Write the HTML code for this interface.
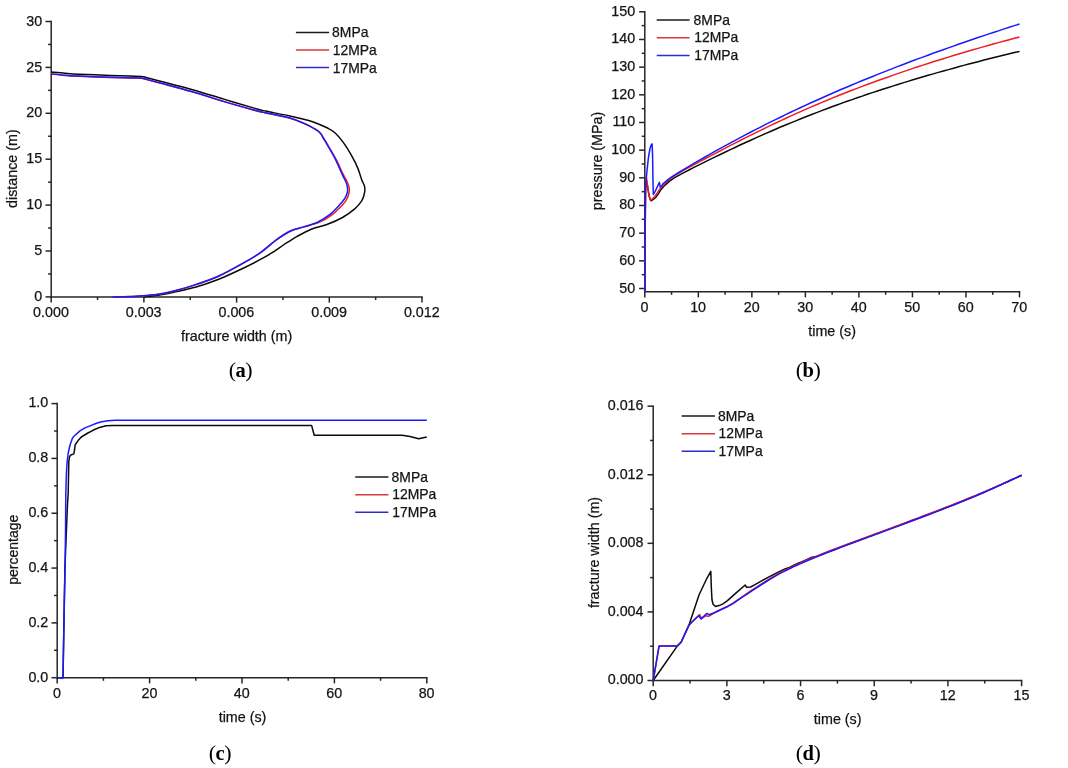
<!DOCTYPE html>
<html><head><meta charset="utf-8"><title>Figure</title>
<style>
html,body{margin:0;padding:0;background:#fff;}
body{width:1068px;height:768px;overflow:hidden;}
svg{display:block;will-change:transform;font-family:"Liberation Sans",sans-serif;fill:#141414;}
text{stroke:#141414;stroke-width:0.25px;}
</style></head><body>
<svg width="1068" height="768" viewBox="0 0 1068 768">
<rect width="1068" height="768" fill="#ffffff"/>
<line x1="50.45" y1="296.90" x2="422.75" y2="296.90" stroke="#262626" stroke-width="1.5"/>
<line x1="51.20" y1="20.75" x2="51.20" y2="297.65" stroke="#262626" stroke-width="1.5"/>
<line x1="51.20" y1="296.90" x2="51.20" y2="302.60" stroke="#262626" stroke-width="1.5"/>
<text x="51.00" y="316.50" text-anchor="middle" font-size="14.3" >0.000</text>
<line x1="143.90" y1="296.90" x2="143.90" y2="302.60" stroke="#262626" stroke-width="1.5"/>
<text x="143.70" y="316.50" text-anchor="middle" font-size="14.3" >0.003</text>
<line x1="236.60" y1="296.90" x2="236.60" y2="302.60" stroke="#262626" stroke-width="1.5"/>
<text x="236.40" y="316.50" text-anchor="middle" font-size="14.3" >0.006</text>
<line x1="329.30" y1="296.90" x2="329.30" y2="302.60" stroke="#262626" stroke-width="1.5"/>
<text x="329.10" y="316.50" text-anchor="middle" font-size="14.3" >0.009</text>
<line x1="422.00" y1="296.90" x2="422.00" y2="302.60" stroke="#262626" stroke-width="1.5"/>
<text x="421.80" y="316.50" text-anchor="middle" font-size="14.3" >0.012</text>
<line x1="97.55" y1="296.90" x2="97.55" y2="300.00" stroke="#262626" stroke-width="1.5"/>
<line x1="190.25" y1="296.90" x2="190.25" y2="300.00" stroke="#262626" stroke-width="1.5"/>
<line x1="282.95" y1="296.90" x2="282.95" y2="300.00" stroke="#262626" stroke-width="1.5"/>
<line x1="375.65" y1="296.90" x2="375.65" y2="300.00" stroke="#262626" stroke-width="1.5"/>
<line x1="45.50" y1="296.90" x2="51.20" y2="296.90" stroke="#262626" stroke-width="1.5"/>
<text x="42.20" y="301.00" text-anchor="end" font-size="14.3" >0</text>
<line x1="45.50" y1="251.00" x2="51.20" y2="251.00" stroke="#262626" stroke-width="1.5"/>
<text x="42.20" y="255.10" text-anchor="end" font-size="14.3" >5</text>
<line x1="45.50" y1="205.10" x2="51.20" y2="205.10" stroke="#262626" stroke-width="1.5"/>
<text x="42.20" y="209.20" text-anchor="end" font-size="14.3" >10</text>
<line x1="45.50" y1="159.20" x2="51.20" y2="159.20" stroke="#262626" stroke-width="1.5"/>
<text x="42.20" y="163.30" text-anchor="end" font-size="14.3" >15</text>
<line x1="45.50" y1="113.30" x2="51.20" y2="113.30" stroke="#262626" stroke-width="1.5"/>
<text x="42.20" y="117.40" text-anchor="end" font-size="14.3" >20</text>
<line x1="45.50" y1="67.40" x2="51.20" y2="67.40" stroke="#262626" stroke-width="1.5"/>
<text x="42.20" y="71.50" text-anchor="end" font-size="14.3" >25</text>
<line x1="45.50" y1="21.50" x2="51.20" y2="21.50" stroke="#262626" stroke-width="1.5"/>
<text x="42.20" y="25.60" text-anchor="end" font-size="14.3" >30</text>
<line x1="48.10" y1="273.95" x2="51.20" y2="273.95" stroke="#262626" stroke-width="1.5"/>
<line x1="48.10" y1="228.05" x2="51.20" y2="228.05" stroke="#262626" stroke-width="1.5"/>
<line x1="48.10" y1="182.15" x2="51.20" y2="182.15" stroke="#262626" stroke-width="1.5"/>
<line x1="48.10" y1="136.25" x2="51.20" y2="136.25" stroke="#262626" stroke-width="1.5"/>
<line x1="48.10" y1="90.35" x2="51.20" y2="90.35" stroke="#262626" stroke-width="1.5"/>
<line x1="48.10" y1="44.45" x2="51.20" y2="44.45" stroke="#262626" stroke-width="1.5"/>
<text x="236.60" y="341.20" text-anchor="middle" font-size="14.3" >fracture width (m)</text>
<text transform="translate(16.80,168.60) rotate(-90)" text-anchor="middle" font-size="14.3">distance (m)</text>
<path d="M51.20,72.10 C53.50,72.30 60.42,72.95 65.00,73.30 C69.58,73.65 71.20,73.85 78.70,74.20 C86.20,74.55 101.45,75.10 110.00,75.40 C118.55,75.70 124.78,75.83 130.00,76.00 C135.22,76.17 138.63,76.15 141.30,76.40 C143.97,76.65 142.67,76.65 146.00,77.50 C149.33,78.35 153.55,79.47 161.30,81.50 C169.05,83.53 182.08,86.77 192.50,89.70 C202.92,92.63 213.38,95.98 223.80,99.10 C234.22,102.22 248.03,106.40 255.00,108.40 C261.97,110.40 259.93,109.87 265.60,111.10 C271.27,112.33 281.18,114.03 289.00,115.80 C296.82,117.57 305.98,119.62 312.50,121.70 C319.02,123.78 324.32,126.42 328.10,128.30 C331.88,130.18 332.58,130.53 335.20,133.00 C337.82,135.47 341.07,139.33 343.80,143.10 C346.53,146.87 349.27,151.43 351.60,155.60 C353.93,159.77 356.12,164.07 357.80,168.10 C359.48,172.13 360.62,176.90 361.70,179.80 C362.78,182.70 363.77,183.80 364.30,185.50 C364.83,187.20 364.95,188.42 364.90,190.00 C364.85,191.58 364.53,193.18 364.00,195.00 C363.47,196.82 363.20,198.63 361.70,200.90 C360.20,203.17 358.20,205.83 355.00,208.60 C351.80,211.37 347.18,214.85 342.50,217.50 C337.82,220.15 332.10,222.55 326.90,224.50 C321.70,226.45 316.25,227.23 311.30,229.20 C306.35,231.17 301.63,233.82 297.20,236.30 C292.77,238.78 288.87,241.37 284.70,244.10 C280.53,246.83 276.32,250.10 272.20,252.70 C268.08,255.30 265.18,256.95 260.00,259.70 C254.82,262.45 247.98,265.93 241.10,269.20 C234.22,272.47 226.18,276.33 218.70,279.30 C211.22,282.27 203.70,284.85 196.20,287.00 C188.70,289.15 179.32,290.95 173.70,292.20 C168.08,293.45 166.45,293.83 162.50,294.50 C158.55,295.17 153.12,295.80 150.00,296.20 C146.88,296.60 144.83,296.78 143.80,296.90" fill="none" stroke="#0a0a0a" stroke-width="1.5" stroke-linejoin="round"/>
<path d="M51.20,74.10 C53.50,74.32 60.42,75.03 65.00,75.40 C69.58,75.77 71.20,75.97 78.70,76.30 C86.20,76.63 101.45,77.12 110.00,77.40 C118.55,77.68 124.78,77.85 130.00,78.00 C135.22,78.15 138.63,78.07 141.30,78.30 C143.97,78.53 142.67,78.55 146.00,79.40 C149.33,80.25 153.55,81.32 161.30,83.40 C169.05,85.48 182.08,88.87 192.50,91.90 C202.92,94.93 213.38,98.50 223.80,101.60 C234.22,104.70 248.03,108.62 255.00,110.50 C261.97,112.38 259.93,111.65 265.60,112.90 C271.27,114.15 282.48,116.18 289.00,118.00 C295.52,119.82 300.27,121.88 304.70,123.80 C309.13,125.72 313.17,128.12 315.60,129.50 C318.03,130.88 318.33,131.27 319.30,132.10 C320.27,132.93 320.70,133.52 321.40,134.50 C322.10,135.48 322.30,136.03 323.50,138.00 C324.70,139.97 326.42,142.58 328.60,146.30 C330.78,150.02 334.17,155.62 336.60,160.30 C339.03,164.98 341.37,170.65 343.20,174.40 C345.03,178.15 346.60,180.57 347.60,182.80 C348.60,185.03 348.95,186.18 349.20,187.80 C349.45,189.42 349.53,190.55 349.10,192.50 C348.67,194.45 347.83,197.28 346.60,199.50 C345.37,201.72 344.20,203.18 341.70,205.80 C339.20,208.42 335.38,212.43 331.60,215.20 C327.82,217.97 323.70,220.42 319.00,222.40 C314.30,224.38 308.08,225.67 303.40,227.10 C298.72,228.53 295.32,228.92 290.90,231.00 C286.48,233.08 282.05,235.92 276.90,239.60 C271.75,243.28 265.97,248.97 260.00,253.10 C254.03,257.23 247.98,260.55 241.10,264.40 C234.22,268.25 226.18,272.83 218.70,276.20 C211.22,279.57 203.70,282.08 196.20,284.60 C188.70,287.12 180.25,289.63 173.70,291.30 C167.15,292.97 162.52,293.82 156.90,294.60 C151.28,295.38 145.58,295.63 140.00,296.00 C134.42,296.37 127.98,296.65 123.40,296.80 C118.82,296.95 114.32,296.88 112.50,296.90" fill="none" stroke="#ee1c24" stroke-width="1.5" stroke-linejoin="round"/>
<path d="M51.20,73.90 C53.50,74.12 60.42,74.83 65.00,75.20 C69.58,75.57 71.20,75.77 78.70,76.10 C86.20,76.43 101.45,76.92 110.00,77.20 C118.55,77.48 124.78,77.65 130.00,77.80 C135.22,77.95 138.63,77.87 141.30,78.10 C143.97,78.33 142.67,78.35 146.00,79.20 C149.33,80.05 153.55,81.12 161.30,83.20 C169.05,85.28 182.08,88.67 192.50,91.70 C202.92,94.73 213.38,98.30 223.80,101.40 C234.22,104.50 248.03,108.42 255.00,110.30 C261.97,112.18 259.93,111.45 265.60,112.70 C271.27,113.95 282.48,115.98 289.00,117.80 C295.52,119.62 300.27,121.68 304.70,123.60 C309.13,125.52 313.18,127.90 315.60,129.30 C318.02,130.70 318.27,131.15 319.20,132.00 C320.13,132.85 320.53,133.40 321.20,134.40 C321.87,135.40 322.05,136.02 323.20,138.00 C324.35,139.98 325.98,142.58 328.10,146.30 C330.22,150.02 333.55,155.62 335.90,160.30 C338.25,164.98 340.48,170.65 342.20,174.40 C343.92,178.15 345.32,180.57 346.20,182.80 C347.08,185.03 347.32,186.18 347.50,187.80 C347.68,189.42 347.75,190.72 347.30,192.50 C346.85,194.28 346.12,196.42 344.80,198.50 C343.48,200.58 341.87,202.35 339.40,205.00 C336.93,207.65 333.65,211.53 330.00,214.40 C326.35,217.27 321.93,220.12 317.50,222.20 C313.07,224.28 307.83,225.47 303.40,226.90 C298.97,228.33 295.32,228.72 290.90,230.80 C286.48,232.88 282.05,235.72 276.90,239.40 C271.75,243.08 265.97,248.77 260.00,252.90 C254.03,257.03 247.98,260.35 241.10,264.20 C234.22,268.05 226.18,272.63 218.70,276.00 C211.22,279.37 203.70,281.88 196.20,284.40 C188.70,286.92 180.25,289.42 173.70,291.10 C167.15,292.78 162.52,293.70 156.90,294.50 C151.28,295.30 145.58,295.53 140.00,295.90 C134.42,296.27 127.98,296.53 123.40,296.70 C118.82,296.87 114.32,296.87 112.50,296.90" fill="none" stroke="#1a1aff" stroke-width="1.5" stroke-linejoin="round"/>
<line x1="295.90" y1="32.40" x2="329.10" y2="32.40" stroke="#1a1a1a" stroke-width="1.5"/>
<line x1="295.90" y1="50.00" x2="329.10" y2="50.00" stroke="#d8383e" stroke-width="1.5"/>
<line x1="295.90" y1="67.60" x2="329.10" y2="67.60" stroke="#2c2cd2" stroke-width="1.5"/>
<text x="332.10" y="37.30" text-anchor="start" font-size="13.9" >8MPa</text>
<text x="332.70" y="54.90" text-anchor="start" font-size="13.9" >12MPa</text>
<text x="332.70" y="72.50" text-anchor="start" font-size="13.9" >17MPa</text>
<text x="240.70" y="376.60" text-anchor="middle" font-family="Liberation Serif, serif" fill="#000" style="stroke:none"><tspan font-size="22" dy="0.6">(</tspan><tspan font-weight="bold" font-size="20.5" dy="-0.6" dx="-0.5">a</tspan><tspan font-size="22" dy="0.6" dx="-0.5">)</tspan></text>
<line x1="644.05" y1="291.70" x2="1020.26" y2="291.70" stroke="#262626" stroke-width="1.5"/>
<line x1="644.80" y1="11.05" x2="644.80" y2="292.45" stroke="#262626" stroke-width="1.5"/>
<line x1="644.80" y1="291.70" x2="644.80" y2="297.40" stroke="#262626" stroke-width="1.5"/>
<text x="644.60" y="311.80" text-anchor="middle" font-size="14.3" >0</text>
<line x1="698.33" y1="291.70" x2="698.33" y2="297.40" stroke="#262626" stroke-width="1.5"/>
<text x="698.13" y="311.80" text-anchor="middle" font-size="14.3" >10</text>
<line x1="751.86" y1="291.70" x2="751.86" y2="297.40" stroke="#262626" stroke-width="1.5"/>
<text x="751.66" y="311.80" text-anchor="middle" font-size="14.3" >20</text>
<line x1="805.39" y1="291.70" x2="805.39" y2="297.40" stroke="#262626" stroke-width="1.5"/>
<text x="805.19" y="311.80" text-anchor="middle" font-size="14.3" >30</text>
<line x1="858.92" y1="291.70" x2="858.92" y2="297.40" stroke="#262626" stroke-width="1.5"/>
<text x="858.72" y="311.80" text-anchor="middle" font-size="14.3" >40</text>
<line x1="912.45" y1="291.70" x2="912.45" y2="297.40" stroke="#262626" stroke-width="1.5"/>
<text x="912.25" y="311.80" text-anchor="middle" font-size="14.3" >50</text>
<line x1="965.98" y1="291.70" x2="965.98" y2="297.40" stroke="#262626" stroke-width="1.5"/>
<text x="965.78" y="311.80" text-anchor="middle" font-size="14.3" >60</text>
<line x1="1019.51" y1="291.70" x2="1019.51" y2="297.40" stroke="#262626" stroke-width="1.5"/>
<text x="1019.31" y="311.80" text-anchor="middle" font-size="14.3" >70</text>
<line x1="671.56" y1="291.70" x2="671.56" y2="294.80" stroke="#262626" stroke-width="1.5"/>
<line x1="725.09" y1="291.70" x2="725.09" y2="294.80" stroke="#262626" stroke-width="1.5"/>
<line x1="778.62" y1="291.70" x2="778.62" y2="294.80" stroke="#262626" stroke-width="1.5"/>
<line x1="832.15" y1="291.70" x2="832.15" y2="294.80" stroke="#262626" stroke-width="1.5"/>
<line x1="885.68" y1="291.70" x2="885.68" y2="294.80" stroke="#262626" stroke-width="1.5"/>
<line x1="939.21" y1="291.70" x2="939.21" y2="294.80" stroke="#262626" stroke-width="1.5"/>
<line x1="992.74" y1="291.70" x2="992.74" y2="294.80" stroke="#262626" stroke-width="1.5"/>
<line x1="639.10" y1="288.50" x2="644.80" y2="288.50" stroke="#262626" stroke-width="1.5"/>
<text x="635.20" y="292.50" text-anchor="end" font-size="14.3" >50</text>
<line x1="639.10" y1="260.83" x2="644.80" y2="260.83" stroke="#262626" stroke-width="1.5"/>
<text x="635.20" y="264.83" text-anchor="end" font-size="14.3" >60</text>
<line x1="639.10" y1="233.16" x2="644.80" y2="233.16" stroke="#262626" stroke-width="1.5"/>
<text x="635.20" y="237.16" text-anchor="end" font-size="14.3" >70</text>
<line x1="639.10" y1="205.49" x2="644.80" y2="205.49" stroke="#262626" stroke-width="1.5"/>
<text x="635.20" y="209.49" text-anchor="end" font-size="14.3" >80</text>
<line x1="639.10" y1="177.82" x2="644.80" y2="177.82" stroke="#262626" stroke-width="1.5"/>
<text x="635.20" y="181.82" text-anchor="end" font-size="14.3" >90</text>
<line x1="639.10" y1="150.15" x2="644.80" y2="150.15" stroke="#262626" stroke-width="1.5"/>
<text x="635.20" y="154.15" text-anchor="end" font-size="14.3" >100</text>
<line x1="639.10" y1="122.48" x2="644.80" y2="122.48" stroke="#262626" stroke-width="1.5"/>
<text x="635.20" y="126.48" text-anchor="end" font-size="14.3" >110</text>
<line x1="639.10" y1="94.81" x2="644.80" y2="94.81" stroke="#262626" stroke-width="1.5"/>
<text x="635.20" y="98.81" text-anchor="end" font-size="14.3" >120</text>
<line x1="639.10" y1="67.14" x2="644.80" y2="67.14" stroke="#262626" stroke-width="1.5"/>
<text x="635.20" y="71.14" text-anchor="end" font-size="14.3" >130</text>
<line x1="639.10" y1="39.47" x2="644.80" y2="39.47" stroke="#262626" stroke-width="1.5"/>
<text x="635.20" y="43.47" text-anchor="end" font-size="14.3" >140</text>
<line x1="639.10" y1="11.80" x2="644.80" y2="11.80" stroke="#262626" stroke-width="1.5"/>
<text x="635.20" y="15.80" text-anchor="end" font-size="14.3" >150</text>
<line x1="641.70" y1="274.67" x2="644.80" y2="274.67" stroke="#262626" stroke-width="1.5"/>
<line x1="641.70" y1="247.00" x2="644.80" y2="247.00" stroke="#262626" stroke-width="1.5"/>
<line x1="641.70" y1="219.32" x2="644.80" y2="219.32" stroke="#262626" stroke-width="1.5"/>
<line x1="641.70" y1="191.66" x2="644.80" y2="191.66" stroke="#262626" stroke-width="1.5"/>
<line x1="641.70" y1="163.99" x2="644.80" y2="163.99" stroke="#262626" stroke-width="1.5"/>
<line x1="641.70" y1="136.31" x2="644.80" y2="136.31" stroke="#262626" stroke-width="1.5"/>
<line x1="641.70" y1="108.65" x2="644.80" y2="108.65" stroke="#262626" stroke-width="1.5"/>
<line x1="641.70" y1="80.97" x2="644.80" y2="80.97" stroke="#262626" stroke-width="1.5"/>
<line x1="641.70" y1="53.31" x2="644.80" y2="53.31" stroke="#262626" stroke-width="1.5"/>
<line x1="641.70" y1="25.63" x2="644.80" y2="25.63" stroke="#262626" stroke-width="1.5"/>
<text x="832.10" y="336.30" text-anchor="middle" font-size="14.3" >time (s)</text>
<text transform="translate(602.00,161.00) rotate(-90)" text-anchor="middle" font-size="14.3">pressure (MPa)</text>
<polyline points="644.9,291.7 645.1,240.0 645.5,192.0 646.3,181.0 647.2,184.0 648.6,193.0 649.8,198.6 651.0,200.8 653.0,199.6 655.7,197.5 658.5,193.6 660.9,189.7 664.5,185.6 669.6,181.1 674.6,177.7 679.7,174.8 684.8,172.1 689.9,169.5 694.9,166.9 700.0,164.4 705.1,161.9 710.1,159.4 715.2,156.9 720.3,154.5 725.4,152.0 730.4,149.6 735.5,147.2 740.6,144.8 745.6,142.5 750.7,140.2 755.8,137.9 760.9,135.6 765.9,133.4 771.0,131.2 776.1,129.0 781.1,126.8 786.2,124.7 791.3,122.6 796.4,120.6 801.4,118.5 806.5,116.5 811.6,114.5 816.6,112.6 821.7,110.6 826.8,108.7 831.9,106.8 836.9,105.0 842.0,103.1 847.1,101.3 852.1,99.6 857.2,97.8 862.3,96.1 867.4,94.3 872.4,92.6 877.5,91.0 882.6,89.3 887.6,87.7 892.7,86.1 897.8,84.5 902.9,82.9 907.9,81.4 913.0,79.8 918.1,78.3 923.1,76.8 928.2,75.3 933.3,73.9 938.4,72.4 943.4,71.0 948.5,69.6 953.6,68.2 958.6,66.8 963.7,65.4 968.8,64.1 973.9,62.7 978.9,61.4 984.0,60.1 989.1,58.8 994.1,57.5 999.2,56.3 1004.3,55.0 1009.4,53.8 1014.4,52.6 1019.5,51.4" fill="none" stroke="#0a0a0a" stroke-width="1.5" stroke-linejoin="round" stroke-linecap="butt"/>
<polyline points="644.9,291.7 645.1,240.0 645.5,188.0 646.3,177.0 647.0,181.0 648.2,190.0 649.4,196.6 650.5,200.1 652.5,198.8 654.7,196.5 657.5,192.6 660.4,188.1 664.0,184.7 669.1,179.6 674.2,175.9 679.2,172.8 684.3,169.9 689.4,167.2 694.5,164.4 699.5,161.7 704.6,159.0 709.7,156.4 714.8,153.7 719.9,151.0 724.9,148.3 730.0,145.7 735.1,143.1 740.2,140.5 745.3,137.9 750.3,135.3 755.4,132.8 760.5,130.3 765.6,127.8 770.6,125.4 775.7,123.0 780.8,120.6 785.9,118.2 791.0,115.9 796.0,113.6 801.1,111.4 806.2,109.1 811.3,106.9 816.4,104.8 821.4,102.6 826.5,100.5 831.6,98.4 836.7,96.3 841.8,94.3 846.8,92.3 851.9,90.3 857.0,88.4 862.1,86.4 867.1,84.5 872.2,82.7 877.3,80.8 882.4,79.0 887.5,77.2 892.5,75.4 897.6,73.6 902.7,71.9 907.8,70.1 912.9,68.4 917.9,66.8 923.0,65.1 928.1,63.5 933.2,61.8 938.2,60.2 943.3,58.7 948.4,57.1 953.5,55.5 958.6,54.0 963.6,52.5 968.7,51.0 973.8,49.5 978.9,48.1 984.0,46.6 989.0,45.2 994.1,43.8 999.2,42.4 1004.3,41.0 1009.3,39.7 1014.4,38.3 1019.5,37.0" fill="none" stroke="#ee1c24" stroke-width="1.5" stroke-linejoin="round" stroke-linecap="butt"/>
<polyline points="644.9,291.7 645.1,240.0 645.5,187.1 646.9,171.5 648.4,157.9 650.0,148.5 651.3,144.8 652.1,143.9 652.6,155.8 652.9,176.7 653.3,194.4 655.2,191.3 659.4,182.4 660.2,187.1 661.5,186.0 663.5,183.3 668.6,179.2 673.7,175.7 678.8,172.5 683.8,169.4 688.9,166.4 694.0,163.4 699.1,160.4 704.2,157.5 709.3,154.6 714.4,151.7 719.4,148.9 724.5,146.1 729.6,143.3 734.7,140.6 739.8,137.9 744.9,135.2 750.0,132.5 755.0,129.9 760.1,127.3 765.2,124.7 770.3,122.2 775.4,119.6 780.5,117.2 785.6,114.7 790.6,112.3 795.7,109.9 800.8,107.5 805.9,105.1 811.0,102.8 816.1,100.5 821.2,98.2 826.2,96.0 831.3,93.7 836.4,91.5 841.5,89.3 846.6,87.2 851.7,85.0 856.8,82.9 861.8,80.8 866.9,78.7 872.0,76.7 877.1,74.6 882.2,72.6 887.3,70.6 892.4,68.6 897.4,66.6 902.5,64.7 907.6,62.8 912.7,60.8 917.8,58.9 922.9,57.1 928.0,55.2 933.0,53.3 938.1,51.5 943.2,49.7 948.3,47.9 953.4,46.1 958.5,44.3 963.6,42.5 968.6,40.8 973.7,39.0 978.8,37.3 983.9,35.6 989.0,33.9 994.1,32.2 999.2,30.6 1004.2,28.9 1009.3,27.2 1014.4,25.6 1019.5,24.0" fill="none" stroke="#1a1aff" stroke-width="1.5" stroke-linejoin="round" stroke-linecap="butt"/>
<line x1="656.70" y1="20.10" x2="689.60" y2="20.10" stroke="#1a1a1a" stroke-width="1.5"/>
<line x1="656.70" y1="37.80" x2="689.60" y2="37.80" stroke="#d8383e" stroke-width="1.5"/>
<line x1="656.70" y1="55.60" x2="689.60" y2="55.60" stroke="#2c2cd2" stroke-width="1.5"/>
<text x="693.60" y="24.70" text-anchor="start" font-size="13.9" >8MPa</text>
<text x="694.20" y="42.40" text-anchor="start" font-size="13.9" >12MPa</text>
<text x="694.20" y="60.20" text-anchor="start" font-size="13.9" >17MPa</text>
<text x="808.20" y="376.60" text-anchor="middle" font-family="Liberation Serif, serif" fill="#000" style="stroke:none"><tspan font-size="22" dy="0.6">(</tspan><tspan font-weight="bold" font-size="20.5" dy="-0.6" dx="-0.5">b</tspan><tspan font-size="22" dy="0.6" dx="-0.5">)</tspan></text>
<line x1="56.45" y1="677.70" x2="427.55" y2="677.70" stroke="#262626" stroke-width="1.5"/>
<line x1="57.20" y1="402.85" x2="57.20" y2="678.45" stroke="#262626" stroke-width="1.5"/>
<line x1="57.20" y1="677.70" x2="57.20" y2="683.40" stroke="#262626" stroke-width="1.5"/>
<text x="57.00" y="697.70" text-anchor="middle" font-size="14.3" >0</text>
<line x1="149.60" y1="677.70" x2="149.60" y2="683.40" stroke="#262626" stroke-width="1.5"/>
<text x="149.40" y="697.70" text-anchor="middle" font-size="14.3" >20</text>
<line x1="242.00" y1="677.70" x2="242.00" y2="683.40" stroke="#262626" stroke-width="1.5"/>
<text x="241.80" y="697.70" text-anchor="middle" font-size="14.3" >40</text>
<line x1="334.40" y1="677.70" x2="334.40" y2="683.40" stroke="#262626" stroke-width="1.5"/>
<text x="334.20" y="697.70" text-anchor="middle" font-size="14.3" >60</text>
<line x1="426.80" y1="677.70" x2="426.80" y2="683.40" stroke="#262626" stroke-width="1.5"/>
<text x="426.60" y="697.70" text-anchor="middle" font-size="14.3" >80</text>
<line x1="103.40" y1="677.70" x2="103.40" y2="680.80" stroke="#262626" stroke-width="1.5"/>
<line x1="195.80" y1="677.70" x2="195.80" y2="680.80" stroke="#262626" stroke-width="1.5"/>
<line x1="288.20" y1="677.70" x2="288.20" y2="680.80" stroke="#262626" stroke-width="1.5"/>
<line x1="380.60" y1="677.70" x2="380.60" y2="680.80" stroke="#262626" stroke-width="1.5"/>
<line x1="51.50" y1="677.70" x2="57.20" y2="677.70" stroke="#262626" stroke-width="1.5"/>
<text x="48.30" y="681.50" text-anchor="end" font-size="14.3" >0.0</text>
<line x1="51.50" y1="622.88" x2="57.20" y2="622.88" stroke="#262626" stroke-width="1.5"/>
<text x="48.30" y="626.68" text-anchor="end" font-size="14.3" >0.2</text>
<line x1="51.50" y1="568.06" x2="57.20" y2="568.06" stroke="#262626" stroke-width="1.5"/>
<text x="48.30" y="571.86" text-anchor="end" font-size="14.3" >0.4</text>
<line x1="51.50" y1="513.24" x2="57.20" y2="513.24" stroke="#262626" stroke-width="1.5"/>
<text x="48.30" y="517.04" text-anchor="end" font-size="14.3" >0.6</text>
<line x1="51.50" y1="458.42" x2="57.20" y2="458.42" stroke="#262626" stroke-width="1.5"/>
<text x="48.30" y="462.22" text-anchor="end" font-size="14.3" >0.8</text>
<line x1="51.50" y1="403.60" x2="57.20" y2="403.60" stroke="#262626" stroke-width="1.5"/>
<text x="48.30" y="407.40" text-anchor="end" font-size="14.3" >1.0</text>
<line x1="54.10" y1="650.29" x2="57.20" y2="650.29" stroke="#262626" stroke-width="1.5"/>
<line x1="54.10" y1="595.47" x2="57.20" y2="595.47" stroke="#262626" stroke-width="1.5"/>
<line x1="54.10" y1="540.65" x2="57.20" y2="540.65" stroke="#262626" stroke-width="1.5"/>
<line x1="54.10" y1="485.83" x2="57.20" y2="485.83" stroke="#262626" stroke-width="1.5"/>
<line x1="54.10" y1="431.01" x2="57.20" y2="431.01" stroke="#262626" stroke-width="1.5"/>
<text x="242.50" y="721.70" text-anchor="middle" font-size="14.3" >time (s)</text>
<text transform="translate(18.30,549.70) rotate(-90)" text-anchor="middle" font-size="14.0">percentage</text>
<polyline points="57.2,677.7 63.0,677.7 64.0,619.0 64.9,570.0 65.6,551.0 67.4,505.7 68.2,493.3 68.8,462.0 69.4,457.2 70.4,455.3 73.8,453.9 74.5,450.0 75.2,444.8 78.1,440.6 81.3,437.0 87.9,433.0 93.0,430.3 99.6,427.4 106.0,425.8 113.3,425.4 311.6,425.4 314.2,435.3 402.1,435.3 410.0,436.6 418.7,438.8 426.8,436.9" fill="none" stroke="#0a0a0a" stroke-width="1.5" stroke-linejoin="round" stroke-linecap="butt"/>
<polyline points="57.2,677.7 63.0,677.7 64.0,619.0 65.0,568.5 65.5,534.0 65.8,493.0 66.4,473.8 67.1,462.0 68.4,452.0 70.2,444.5 72.5,437.9 74.5,435.8 78.0,432.6 80.3,430.7 85.0,427.9 90.0,425.9 96.5,423.2 101.6,421.7 108.0,420.7 115.2,420.3 426.8,420.3" fill="none" stroke="#1a1aff" stroke-width="1.5" stroke-linejoin="round" stroke-linecap="butt"/>
<line x1="355.20" y1="477.10" x2="388.40" y2="477.10" stroke="#1a1a1a" stroke-width="1.5"/>
<line x1="355.20" y1="494.80" x2="388.40" y2="494.80" stroke="#d8383e" stroke-width="1.5"/>
<line x1="355.20" y1="512.20" x2="388.40" y2="512.20" stroke="#2c2cd2" stroke-width="1.5"/>
<text x="391.60" y="481.80" text-anchor="start" font-size="13.9" >8MPa</text>
<text x="392.20" y="499.40" text-anchor="start" font-size="13.9" >12MPa</text>
<text x="392.20" y="517.00" text-anchor="start" font-size="13.9" >17MPa</text>
<text x="220.10" y="759.50" text-anchor="middle" font-family="Liberation Serif, serif" fill="#000" style="stroke:none"><tspan font-size="22" dy="0.6">(</tspan><tspan font-weight="bold" font-size="20.5" dy="-0.6" dx="-0.5">c</tspan><tspan font-size="22" dy="0.6" dx="-0.5">)</tspan></text>
<line x1="652.45" y1="680.50" x2="1022.35" y2="680.50" stroke="#262626" stroke-width="1.5"/>
<line x1="653.20" y1="405.43" x2="653.20" y2="681.25" stroke="#262626" stroke-width="1.5"/>
<line x1="653.20" y1="680.50" x2="653.20" y2="686.20" stroke="#262626" stroke-width="1.5"/>
<text x="653.00" y="700.00" text-anchor="middle" font-size="14.3" >0</text>
<line x1="726.88" y1="680.50" x2="726.88" y2="686.20" stroke="#262626" stroke-width="1.5"/>
<text x="726.68" y="700.00" text-anchor="middle" font-size="14.3" >3</text>
<line x1="800.56" y1="680.50" x2="800.56" y2="686.20" stroke="#262626" stroke-width="1.5"/>
<text x="800.36" y="700.00" text-anchor="middle" font-size="14.3" >6</text>
<line x1="874.24" y1="680.50" x2="874.24" y2="686.20" stroke="#262626" stroke-width="1.5"/>
<text x="874.04" y="700.00" text-anchor="middle" font-size="14.3" >9</text>
<line x1="947.92" y1="680.50" x2="947.92" y2="686.20" stroke="#262626" stroke-width="1.5"/>
<text x="947.72" y="700.00" text-anchor="middle" font-size="14.3" >12</text>
<line x1="1021.60" y1="680.50" x2="1021.60" y2="686.20" stroke="#262626" stroke-width="1.5"/>
<text x="1021.40" y="700.00" text-anchor="middle" font-size="14.3" >15</text>
<line x1="690.04" y1="680.50" x2="690.04" y2="683.60" stroke="#262626" stroke-width="1.5"/>
<line x1="763.72" y1="680.50" x2="763.72" y2="683.60" stroke="#262626" stroke-width="1.5"/>
<line x1="837.40" y1="680.50" x2="837.40" y2="683.60" stroke="#262626" stroke-width="1.5"/>
<line x1="911.08" y1="680.50" x2="911.08" y2="683.60" stroke="#262626" stroke-width="1.5"/>
<line x1="984.76" y1="680.50" x2="984.76" y2="683.60" stroke="#262626" stroke-width="1.5"/>
<line x1="647.50" y1="680.50" x2="653.20" y2="680.50" stroke="#262626" stroke-width="1.5"/>
<text x="643.50" y="684.30" text-anchor="end" font-size="14.3" >0.000</text>
<line x1="647.50" y1="611.92" x2="653.20" y2="611.92" stroke="#262626" stroke-width="1.5"/>
<text x="643.50" y="615.72" text-anchor="end" font-size="14.3" >0.004</text>
<line x1="647.50" y1="543.34" x2="653.20" y2="543.34" stroke="#262626" stroke-width="1.5"/>
<text x="643.50" y="547.14" text-anchor="end" font-size="14.3" >0.008</text>
<line x1="647.50" y1="474.76" x2="653.20" y2="474.76" stroke="#262626" stroke-width="1.5"/>
<text x="643.50" y="478.56" text-anchor="end" font-size="14.3" >0.012</text>
<line x1="647.50" y1="406.18" x2="653.20" y2="406.18" stroke="#262626" stroke-width="1.5"/>
<text x="643.50" y="409.98" text-anchor="end" font-size="14.3" >0.016</text>
<line x1="650.10" y1="646.21" x2="653.20" y2="646.21" stroke="#262626" stroke-width="1.5"/>
<line x1="650.10" y1="577.63" x2="653.20" y2="577.63" stroke="#262626" stroke-width="1.5"/>
<line x1="650.10" y1="509.05" x2="653.20" y2="509.05" stroke="#262626" stroke-width="1.5"/>
<line x1="650.10" y1="440.47" x2="653.20" y2="440.47" stroke="#262626" stroke-width="1.5"/>
<text x="837.70" y="724.40" text-anchor="middle" font-size="14.3" >time (s)</text>
<text transform="translate(598.90,552.50) rotate(-90)" text-anchor="middle" font-size="14.3">fracture width (m)</text>
<polyline points="653.2,680.5 677.4,645.9 681.1,642.3 688.9,625.2 699.1,594.7 706.9,578.3 710.8,571.3 711.3,586.9 712.0,600.0 713.2,604.5 715.5,606.4 719.0,605.6 722.5,604.1 727.2,600.9 735.0,593.9 745.2,585.0 746.6,587.3 750.6,587.0 755.0,584.7 761.6,580.9 769.0,576.9 777.2,572.7 785.0,568.9 790.0,567.1 792.8,565.8 795.5,564.5 798.2,563.3 801.0,562.1 803.8,560.9 806.5,559.7 809.2,558.5 812.0,557.3 817.0,556.4 820.4,555.0 823.8,553.6 827.2,552.3 830.6,551.0 834.1,549.7 837.5,548.4 840.9,547.1 844.3,545.8 847.7,544.5 851.1,543.2 854.5,542.0 857.9,540.7 861.4,539.4 864.8,538.2 868.2,536.9 871.6,535.7 875.0,534.4 878.4,533.2 881.8,531.9 885.2,530.6 888.6,529.4 892.1,528.1 895.5,526.8 898.9,525.6 902.3,524.3 905.7,523.0 909.1,521.7 912.5,520.5 915.9,519.2 919.4,517.9 922.8,516.6 926.2,515.3 929.6,514.0 933.0,512.7 936.4,511.4 939.8,510.1 943.2,508.8 946.6,507.4 950.1,506.1 953.5,504.8 956.9,503.4 960.3,502.1 963.7,500.7 967.1,499.3 970.5,497.9 973.9,496.5 977.3,495.1 980.8,493.6 984.2,492.1 987.6,490.6 991.0,489.1 994.4,487.6 997.8,486.1 1001.2,484.6 1004.6,483.0 1008.1,481.5 1011.5,479.9 1014.9,478.4 1018.3,476.8 1021.7,475.3" fill="none" stroke="#0a0a0a" stroke-width="1.5" stroke-linejoin="round" stroke-linecap="butt"/>
<polyline points="653.2,680.5 659.1,645.9 677.4,645.9 681.1,642.3 688.9,625.2 692.0,622.0 699.6,614.6 701.8,618.5 705.5,615.8 708.6,616.3 716.0,611.8 727.2,606.4 733.0,603.2 738.0,599.5 742.7,596.3 747.5,593.1 752.2,590.0 756.9,586.9 761.6,583.8 766.4,580.8 771.1,577.9 775.8,575.1 780.6,572.5 785.3,570.1 790.0,567.8 794.7,565.5 799.5,563.4 804.2,561.3 808.9,559.3 813.7,557.3 818.4,555.4 823.1,553.5 827.8,551.6 832.6,549.8 837.3,548.0 842.0,546.2 846.8,544.4 851.5,542.6 856.2,540.9 860.9,539.2 865.7,537.4 870.4,535.7 875.1,533.9 879.9,532.2 884.6,530.4 889.3,528.7 894.0,526.9 898.8,525.2 903.5,523.4 908.2,521.6 912.9,519.8 917.7,518.1 922.4,516.3 927.1,514.5 931.9,512.7 936.6,510.9 941.3,509.1 946.0,507.2 950.8,505.4 955.5,503.5 960.2,501.6 965.0,499.7 969.7,497.8 974.4,495.9 979.1,493.9 983.9,491.9 988.6,489.9 993.3,487.9 998.1,485.8 1002.8,483.8 1007.5,481.7 1012.2,479.5 1017.0,477.4 1021.7,475.3" fill="none" stroke="#ee1c24" stroke-width="1.5" stroke-linejoin="round" stroke-linecap="butt"/>
<polyline points="653.2,680.5 659.1,645.9 677.4,645.9 681.1,642.3 688.9,625.2 692.0,622.0 698.6,615.8 701.2,618.9 706.9,613.4 709.2,614.7 716.0,612.0 727.2,606.8 733.0,603.6 738.0,600.2 742.7,597.0 747.5,593.8 752.2,590.7 756.9,587.6 761.6,584.5 766.4,581.5 771.1,578.6 775.8,575.8 780.6,573.2 785.3,570.8 790.0,568.5 794.7,566.2 799.5,564.1 804.2,562.0 808.9,560.0 813.7,558.0 818.4,556.1 823.1,554.2 827.8,552.3 832.6,550.5 837.3,548.7 842.0,546.9 846.8,545.1 851.5,543.3 856.2,541.6 860.9,539.9 865.7,538.1 870.4,536.4 875.1,534.6 879.9,532.9 884.6,531.1 889.3,529.4 894.0,527.6 898.8,525.9 903.5,524.1 908.2,522.3 912.9,520.5 917.7,518.8 922.4,517.0 927.1,515.2 931.9,513.4 936.6,511.6 941.3,509.8 946.0,507.9 950.8,506.1 955.5,504.2 960.2,502.3 965.0,500.4 969.7,498.5 974.4,496.6 979.1,494.5 983.9,492.5 988.6,490.4 993.3,488.2 998.1,486.1 1002.8,483.9 1007.5,481.7 1012.2,479.5 1017.0,477.4 1021.7,475.3" fill="none" stroke="#1a1aff" stroke-width="1.5" stroke-linejoin="round" stroke-linecap="butt"/>
<line x1="681.60" y1="416.00" x2="715.00" y2="416.00" stroke="#1a1a1a" stroke-width="1.5"/>
<line x1="681.60" y1="433.70" x2="715.00" y2="433.70" stroke="#d8383e" stroke-width="1.5"/>
<line x1="681.60" y1="451.20" x2="715.00" y2="451.20" stroke="#2c2cd2" stroke-width="1.5"/>
<text x="718.00" y="420.70" text-anchor="start" font-size="13.9" >8MPa</text>
<text x="718.60" y="438.30" text-anchor="start" font-size="13.9" >12MPa</text>
<text x="718.60" y="455.90" text-anchor="start" font-size="13.9" >17MPa</text>
<text x="808.30" y="759.60" text-anchor="middle" font-family="Liberation Serif, serif" fill="#000" style="stroke:none"><tspan font-size="22" dy="0.6">(</tspan><tspan font-weight="bold" font-size="20.5" dy="-0.6" dx="-0.5">d</tspan><tspan font-size="22" dy="0.6" dx="-0.5">)</tspan></text>
</svg>
</body></html>
